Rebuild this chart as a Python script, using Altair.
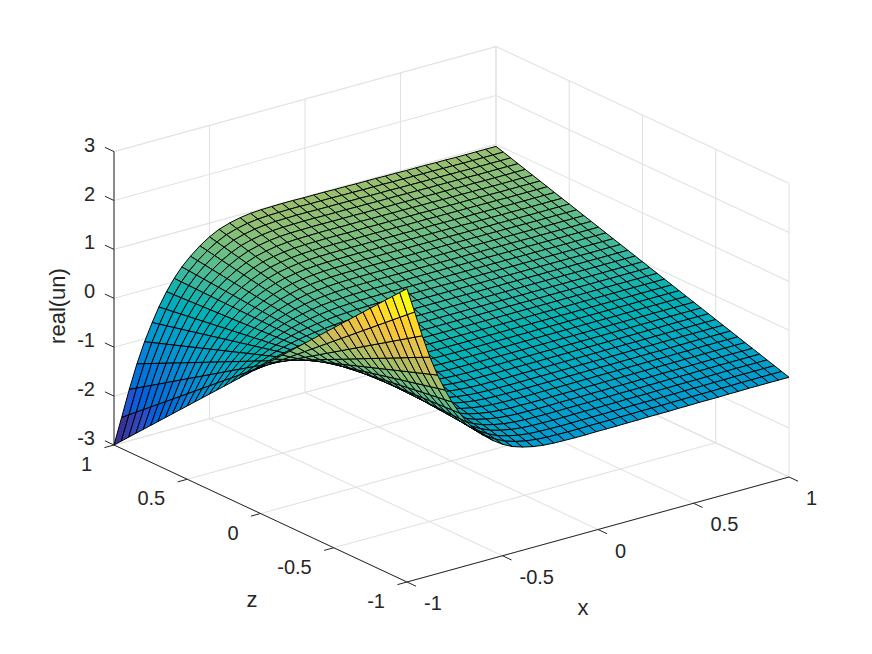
import altair as alt

# --- values ---
x_nodes = [-1.00,-0.96,-0.92,-0.88,-0.84,-0.80,-0.765,-0.725,-0.685,-0.645,-0.60,-0.55,-0.50,-0.45,-0.395,-0.34,-0.285,-0.23,-0.175,-0.12,-0.065,-0.01,0.045,0.10,0.155,0.21,0.265,0.32,0.37,0.42,0.475,0.53,0.58,0.63,0.685,0.735,0.79,0.84,0.895,0.945,1.00]
# height along the y=1 edge, one value per x node
edge_profile = [-3.00,-2.48,-1.95,-1.47,-1.06,-0.71,-0.43,-0.16,0.07,0.26,0.43,0.59,0.72,0.82,0.89,0.94,0.97,0.985,0.99,0.995,0.995,0.99,0.99,0.99,0.985,0.985,0.98,0.98,0.98,0.975,0.975,0.97,0.97,0.97,0.965,0.965,0.96,0.96,0.96,0.96,0.96]
# y position of each row; the x=1 edge reads the same number as height
y_nodes = [-1.0,-0.95,-0.9,-0.85,-0.8,-0.75,-0.7,-0.65,-0.6,-0.55,-0.5,-0.45,-0.4,-0.35,-0.3,-0.25,-0.2,-0.15,-0.1,-0.05,0.0,0.05,0.1,0.15,0.2,0.25,0.3,0.35,0.4,0.45,0.5,0.55,0.6,0.65,0.7,0.75,0.8,0.85,0.9,0.95,1.0]

x_ticks = [-1, -0.5, 0, 0.5, 1]
y_ticks = [-1, -0.5, 0, 0.5, 1]
z_ticks = [-3, -2, -1, 0, 1, 2, 3]
tick_text = {-3:"-3",-2:"-2",-1:"-1",-0.5:"-0.5",0:"0",0.5:"0.5",1:"1",2:"2",3:"3"}
parula = ["#352a87","#0f5cdd","#1481d6","#06a4ca","#2eb7a4","#87bf77","#d1bb59","#fec832","#f9fb0e"]
parula_domain = [-3,-2.25,-1.5,-0.75,0,0.75,1.5,2.25,3]

# view (orthographic)
def view(x, y, z):
    return [407 + 191*(x+1) - 146.5*(y+1), 582 - 52.5*(x+1) - 68.5*(y+1) - 48.9*(z+3)]

def fc(features):
    return alt.InlineData(values={"type":"FeatureCollection","features":features},
                          format=alt.DataFormat(property="features", type="json"))

def seg(a, b):
    return {"type":"Feature","properties":{},"geometry":{"type":"LineString","coordinates":[view(*a), view(*b)]}}

proj = dict(type="identity", scale=1, translate=[-8,-8])

grid = []
for x in x_ticks:
    grid.append(seg((x,-1,-3),(x,1,-3)))
    grid.append(seg((x,1,-3),(x,1,3)))
for y in y_ticks:
    grid.append(seg((-1,y,-3),(1,y,-3)))
    grid.append(seg((1,y,-3),(1,y,3)))
for z in z_ticks:
    grid.append(seg((-1,1,z),(1,1,z)))
    grid.append(seg((1,-1,z),(1,1,z)))

axes = [seg((-1,-1,-3),(1,-1,-3)), seg((-1,-1,-3),(-1,1,-3)), seg((-1,1,-3),(-1,1,3))]
for x in x_ticks:
    axes.append(seg((x,-1,-3),(x,-1.062,-3)))
for y in y_ticks:
    axes.append(seg((-1,y,-3),(-1.05,y,-3)))
for z in z_ticks:
    axes.append(seg((-1,1,z),(-1,1.062,z)))

# far cells first, so nearer cells cover them
cells = []
for i in range(len(x_nodes)-2, -1, -1):
    for j in range(len(y_nodes)-2, -1, -1):
        p = lambda a, b: view(x_nodes[a], y_nodes[b], y_nodes[b]*edge_profile[a])
        ring = [p(i,j), p(i+1,j), p(i+1,j+1), p(i,j+1), p(i,j)]
        cells.append({"type":"Feature","properties":{"c": y_nodes[j]*edge_profile[i]},
                      "geometry":{"type":"Polygon","coordinates":[ring]}})

labels = []
for x in x_ticks:
    X, Y = view(x,-1,-3)
    labels.append(dict(lon=X+17, lat=Y+22, t=tick_text[x], a="left"))
for y in y_ticks:
    X, Y = view(-1,y,-3)
    labels.append(dict(lon=X-22, lat=Y+20, t=tick_text[y], a="right"))
for z in z_ticks:
    X, Y = view(-1,1,z)
    labels.append(dict(lon=X-19, lat=Y-6, t=tick_text[z], a="right"))

def text_layer(rows, align):
    return alt.Chart(alt.Data(values=rows)).mark_text(
        font="Liberation Sans", fontSize=20, color="#262626", align=align, baseline="middle"
    ).encode(longitude="lon:Q", latitude="lat:Q", text="t:N").project(**proj)

grid_layer = alt.Chart(fc(grid)).mark_geoshape(filled=False, stroke="#e2e2e2", strokeWidth=1.1).project(**proj)
axes_layer = alt.Chart(fc(axes)).mark_geoshape(filled=False, stroke="#262626", strokeWidth=1).project(**proj)
surface = alt.Chart(fc(cells)).mark_geoshape(stroke="#000000", strokeWidth=1).encode(
    fill=alt.Fill("properties.c:Q", scale=alt.Scale(domain=parula_domain, range=parula), legend=None)
).project(**proj)

titles = alt.Chart(alt.Data(values=[dict(lon=583,lat=608,t="x"),dict(lon=252,lat=600,t="z")])).mark_text(
    font="Liberation Sans", fontSize=22, color="#262626", align="center", baseline="middle"
).encode(longitude="lon:Q", latitude="lat:Q", text="t:N").project(**proj)
ytitle = alt.Chart(alt.Data(values=[dict(lon=58,lat=306,t="real(un)")])).mark_text(
    font="Liberation Sans", fontSize=22, color="#262626", align="center", baseline="middle", angle=270
).encode(longitude="lon:Q", latitude="lat:Q", text="t:N").project(**proj)

chart = alt.layer(
    grid_layer, axes_layer, surface,
    text_layer([l for l in labels if l["a"]=="left"], "left"),
    text_layer([l for l in labels if l["a"]=="right"], "right"),
    titles, ytitle
).properties(width=856, height=638, padding=0, autosize=alt.AutoSizeParams(type="none"), background="white"
).configure_view(stroke=None)

chart.save("out.html", embed_options={"renderer": "svg", "actions": False})
